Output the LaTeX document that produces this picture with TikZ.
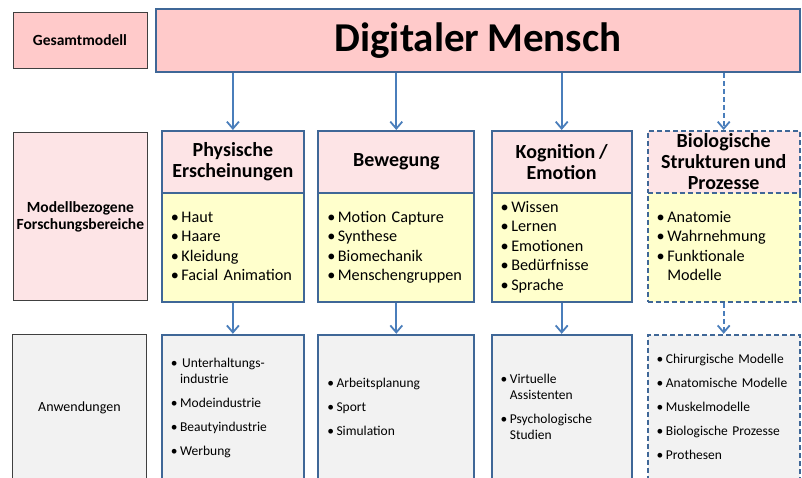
\documentclass[tikz,border=0pt]{standalone}
\usepackage{fontspec}
\setmainfont[WordSpace=0.85]{Carlito}
\usetikzlibrary{positioning,arrows.meta}
\definecolor{DMBlue}{HTML}{3F6797}
\definecolor{DMArrow}{HTML}{4A7EBB}
\definecolor{DMRose}{HTML}{FFCACA}
\definecolor{DMPale}{HTML}{FDE4E6}
\definecolor{DMYellow}{HTML}{FFFFCC}
\definecolor{DMGray}{HTML}{F2F2F2}
\definecolor{DMFrame}{HTML}{404040}
\newcommand{\blist}[1]{\begin{tabular}{@{}l@{\hspace{2.5pt}}l@{}}#1\end{tabular}}

\begin{document}
\begin{tikzpicture}[x=1pt,y=1pt,node distance=14pt]
  \tikzstyle{rowname}=[draw=DMFrame,line width=0.8pt,minimum width=134pt,
    align=center,inner sep=2pt,font=\fontsize{15.5}{17}\selectfont\bfseries]
  \tikzstyle{head}=[draw=DMBlue,line width=1.8pt,fill=DMPale,minimum height=62pt,
    align=center,inner sep=1pt,font=\fontsize{20}{21}\selectfont\bfseries]
  \tikzstyle{body}=[draw=DMBlue,line width=1.8pt,fill=DMYellow,minimum height=109pt,
    align=left,inner xsep=9pt,font=\fontsize{16.2}{19.5}\selectfont]
  \tikzstyle{apps}=[draw=DMBlue,line width=1.8pt,fill=DMGray,minimum height=147pt,
    align=left,inner xsep=9pt,font=\fontsize{13.5}{16}\selectfont]
  \tikzstyle{open}=[dash pattern=on 5pt off 3pt]
  \tikzstyle{link}=[-{Straight Barb[length=7pt,width=12pt]},DMArrow,line width=1.8pt]
  \clip (0,0) rectangle (802,-477);

  % Gesamtmodell
  \node[rowname,fill=DMRose,minimum height=56pt] (gm) at (80,-40) {Gesamtmodell};
  \node[draw=DMBlue,line width=1.8pt,fill=DMRose,minimum width=644pt,minimum height=63pt,
    anchor=north west,font=\fontsize{41}{44}\selectfont\bfseries] (dm) at (155,-8) {\raisebox{-3pt}{Digitaler Mensch}};

  % Forschungsbereiche
  \node[rowname,fill=DMPale,minimum height=168pt,anchor=north west] (fb) at (13,-132)
    {Modellbezogene\\Forschungsbereiche};
  \node[head,minimum width=142pt,anchor=north west] (h1) at (161,-130) {Physische\\Erscheinungen};
  \node[head,minimum width=156pt,right=12.6pt of h1] (h2) {Bewegung};
  \node[head,minimum width=140pt,right=15.6pt of h2] (h3) {Kognition /\\Emotion};
  \node[head,open,minimum width=152pt,right=14.2pt of h3] (h4) {Biologische\\Strukturen und\\Prozesse};
  \node[body,text width=124pt,below=-1.8pt of h1] (b1)
    {\blist{\textbullet & Haut\\ \textbullet & Haare\\ \textbullet & Kleidung\\ \textbullet & Facial Animation}};
  \node[body,text width=138pt,below=-1.8pt of h2] (b2)
    {\blist{\textbullet & Motion Capture\\ \textbullet & Synthese\\ \textbullet & Biomechanik\\
      \textbullet & Menschengruppen}};
  \node[body,text width=122pt,below=-1.8pt of h3] (b3)
    {\blist{\textbullet & Wissen\\ \textbullet & Lernen\\ \textbullet & Emotionen\\
      \textbullet & Bedürfnisse\\ \textbullet & Sprache}};
  \node[body,open,text width=134pt,below=-1.8pt of h4] (b4)
    {\blist{\textbullet & Anatomie\\ \textbullet & Wahrnehmung\\ \textbullet & Funktionale\\ & Modelle}};

  % Anwendungen
  \node[rowname,fill=DMGray,minimum height=147pt,anchor=north west,
    font=\fontsize{14}{16}\selectfont] (an) at (12,-334) {Anwendungen};
  \node[apps,text width=124pt,below=31pt of b1] (a1)
    {\blist{\textbullet & \hspace{2pt}Unterhaltungs-\\ & industrie\\[8pt] \textbullet & Modeindustrie\\[8pt]
      \textbullet & Beautyindustrie\\[8pt] \textbullet & Werbung}};
  \node[apps,text width=138pt,below=31pt of b2] (a2)
    {\blist{\textbullet & Arbeitsplanung\\[8pt] \textbullet & Sport\\[8pt] \textbullet & Simulation}};
  \node[apps,text width=122pt,below=31pt of b3] (a3)
    {\blist{\textbullet & Virtuelle\\ & Assistenten\\[8pt] \textbullet & Psychologische\\ & Studien}};
  \node[apps,open,text width=134pt,below=31pt of b4] (a4)
    {\blist{\textbullet & Chirurgische Modelle\\[8pt] \textbullet & Anatomische Modelle\\[8pt]
      \textbullet & Muskelmodelle\\[8pt] \textbullet & Biologische Prozesse\\[8pt] \textbullet & Prothesen}};

  % Pfeile
  \draw[link] (dm.south -| h1.north) -- (h1.north);
  \draw[link] (dm.south -| h2.north) -- (h2.north);
  \draw[link] (dm.south -| h3.north) -- (h3.north);
  \draw[link,open] (dm.south -| h4.north) -- (h4.north);
  \draw[link] (b1.south) -- (a1.north);
  \draw[link] (b2.south) -- (a2.north);
  \draw[link] (b3.south) -- (a3.north);
  \draw[link,open] (b4.south) -- (a4.north);
\end{tikzpicture}
\end{document}
